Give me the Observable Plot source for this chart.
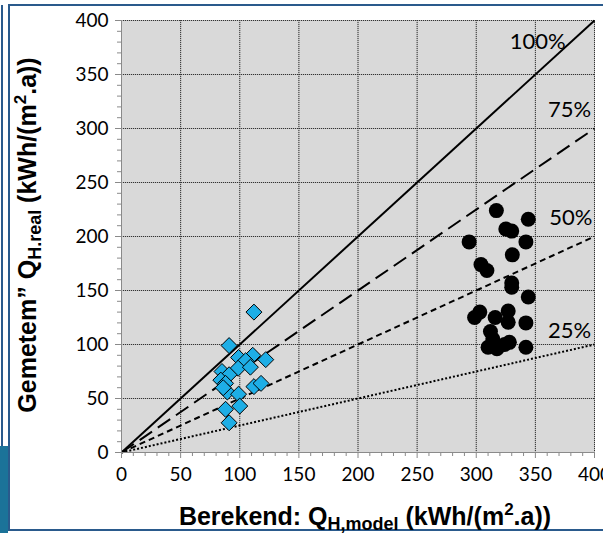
<!DOCTYPE html>
<html>
<head>
<meta charset="utf-8">
<script src="https://cdn.jsdelivr.net/npm/d3@7"></script>
<script src="https://cdn.jsdelivr.net/npm/@observablehq/plot@0.6"></script>
<style>
  body { margin: 0; background: #fff; }
  #chart { width: 603px; height: 533px; overflow: hidden; }
  #chart svg { display: block; }
</style>
</head>
<body>
<div id="chart"></div>
<script>
// Calculated (model) vs measured heating demand, kWh/(m².a)
const diamondModel = [112, 91, 99, 111, 122, 105, 98.6, 109, 85, 91, 84, 88, 89.5, 99, 112, 118, 88, 100, 91, 86];
const diamondReal  = [130, 99, 88, 90, 86, 85, 78, 79, 75, 72, 67, 64, 56, 54, 61, 64, 40, 43, 27.5, 60];

const dotModel = [317, 344, 325, 330, 294, 342, 330.5, 304, 309, 330, 330, 344, 303, 298.6, 316, 327, 327, 342, 312, 314, 310, 317.5, 324, 328, 342];
const dotReal  = [224, 216, 207, 205, 195, 195, 183, 174, 168.5, 157, 153, 144, 130, 125, 125, 131, 120.6, 120, 112, 105, 97.5, 96, 100, 102, 97.5];

// Reference ratios real/model and where their labels sit
const refPct = [100, 75, 50, 25];
const refLabelModel = [352, 379, 380, 379];
const refLabelReal  = [380, 317, 217, 113];

const majorTicks = [0, 50, 100, 150, 200, 250, 300, 350, 400];
const minorTicks = d3.range(0, 401, 10).filter(v => v % 50 !== 0);

const diamonds = diamondModel.map((x, i) => ({x, y: diamondReal[i]}));
const dots = dotModel.map((x, i) => ({x, y: dotReal[i]}));
const refLabels = refPct.map((p, i) => ({p, x: refLabelModel[i], y: refLabelReal[i]}));

const dashFor = {100: null, 75: "15,7", 50: "6,4", 25: "2,2"};
const refMarks = refPct.map(p =>
  Plot.link([p], {
    x1: () => 0, y1: () => 0, x2: () => 400, y2: d => 4 * d,
    stroke: "#000", strokeWidth: 2, strokeDasharray: dashFor[p]
  })
);

const axisGray = "#8a8a8a";

const chart = Plot.plot({
  width: 603,
  height: 533,
  marginLeft: 121,
  marginRight: 9,
  marginTop: 20,
  marginBottom: 81,
  style: {background: "#fff", fontFamily: "Lato, 'Open Sans', sans-serif", fontSize: "19px", color: "#000"},
  x: {domain: [0, 400], label: null},
  y: {domain: [0, 400], label: null},
  marks: [
    Plot.frame({fill: "#d9d9d9", stroke: null}),
    Plot.gridX(majorTicks.slice(1), {stroke: "#b8b8b8", strokeOpacity: 1}),
    Plot.gridY(majorTicks.slice(1), {stroke: "#b8b8b8", strokeOpacity: 1}),
    Plot.gridX(majorTicks.slice(1), {stroke: "#333", strokeOpacity: 1, strokeDasharray: "1,1"}),
    Plot.gridY(majorTicks.slice(1), {stroke: "#333", strokeOpacity: 1, strokeDasharray: "1,1"}),
    ...refMarks,
    Plot.dot(diamonds, {x: "x", y: "y", symbol: "diamond2", r: 7.2, fill: "#1eaee6", stroke: "#000", strokeWidth: 1}),
    Plot.dot(dots, {x: "x", y: "y", r: 7.5, fill: "#000", stroke: null}),
    Plot.text(refLabels, {x: "x", y: "y", text: d => d.p + "%", fontSize: 22, fill: "#000"}),
    Plot.axisX(minorTicks, {tickSize: 4, text: null, stroke: axisGray, strokeOpacity: 1}),
    Plot.axisY(minorTicks, {tickSize: 4, text: null, stroke: axisGray, strokeOpacity: 1}),
    Plot.axisX(majorTicks, {tickSize: 6, tickPadding: 9, stroke: axisGray, strokeOpacity: 1, fill: "#000", fontSize: 19}),
    Plot.axisY(majorTicks, {tickSize: 6, tickPadding: 7, stroke: axisGray, strokeOpacity: 1, fill: "#000", fontSize: 19}),
    Plot.ruleX([0], {stroke: axisGray, strokeWidth: 1}),
    Plot.ruleY([0], {stroke: axisGray, strokeWidth: 1})
  ]
});

const svg = d3.select(chart);
svg.style("overflow", "hidden");

// Panel decoration: outer frame and left side strip
svg.insert("rect", ":first-child")
  .attr("x", 0).attr("y", 446).attr("width", 8).attr("height", 87)
  .attr("fill", "#1b7399");
svg.append("line")
  .attr("x1", 2).attr("x2", 2).attr("y1", 5).attr("y2", 446)
  .attr("stroke", "#2a5a8c").attr("stroke-width", 2);
svg.append("rect")
  .attr("x", 9).attr("y", 5).attr("width", 620).attr("height", 525)
  .attr("fill", "none").attr("stroke", "#2a5a8c").attr("stroke-width", 2);

// Axis titles with subscripts and superscripts
const titleFont = "'Liberation Sans', Arial, sans-serif";

const xt = svg.append("text")
  .attr("x", 365).attr("y", 525)
  .attr("text-anchor", "middle")
  .attr("font-family", titleFont).attr("font-weight", "bold").attr("font-size", 25)
  .attr("fill", "#000");
xt.append("tspan").text("Berekend: Q");
xt.append("tspan").attr("font-size", 18).attr("dy", 5).text("H,model");
xt.append("tspan").attr("dy", -5).text(" (kWh/(m");
xt.append("tspan").attr("font-size", 17).attr("dy", -10).text("2");
xt.append("tspan").attr("dy", 10).text(".a))");

const yt = svg.append("text")
  .attr("transform", "translate(36,235) rotate(-90)")
  .attr("text-anchor", "middle")
  .attr("font-family", titleFont).attr("font-weight", "bold").attr("font-size", 25)
  .attr("fill", "#000");
yt.append("tspan").text("Gemetem” Q");
yt.append("tspan").attr("font-size", 18).attr("dy", 5).text("H.real");
yt.append("tspan").attr("dy", -5).text(" (kWh/(m");
yt.append("tspan").attr("font-size", 17).attr("dy", -10).text("2");
yt.append("tspan").attr("dy", 10).text(".a))");

document.getElementById("chart").appendChild(chart);
</script>
</body>
</html>
